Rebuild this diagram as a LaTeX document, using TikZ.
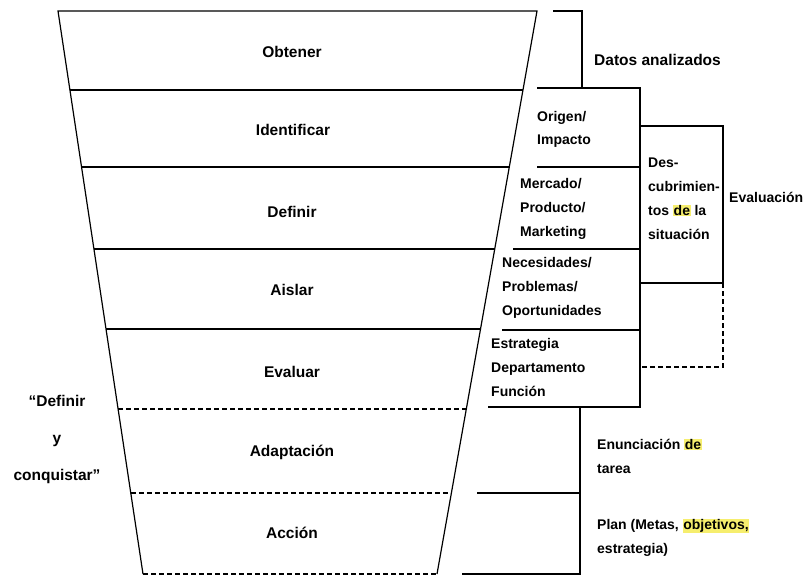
\documentclass[tikz,border=0pt]{standalone}
\usepackage{fontspec}
\setmainfont{Liberation Sans}
\usepackage{tikz}
\usetikzlibrary{calc}

\definecolor{marcador}{RGB}{246,238,110}
\newcommand{\resalto}[1]{{\setlength{\fboxsep}{0.6pt}\colorbox{marcador}{#1}}}

\begin{document}
\begin{tikzpicture}[
        x=1pt, y=-1pt,
        every node/.style={inner sep=0pt},
        etapa/.style={font=\bfseries\fontsize{15.5}{18}\selectfont},
        nota/.style={anchor=west, align=left, font=\bfseries\fontsize{14}{24}\selectfont},
        linea/.style={line width=1.2pt},
        guiones/.style={linea, dash pattern=on 5pt off 3pt}
    ]
    \useasboundingbox (0,0) rectangle (805,576);

    % Embudo
    \coordinate (supizq) at (58,11);
    \coordinate (supder) at (537,11);
    \coordinate (infizq) at (143,574);
    \coordinate (infder) at (437,574);
    \draw[linea] (infizq) -- (supizq) -- (supder) -- (infder);
    \draw[guiones] (infizq) -- (infder);
    \foreach \y/\estilo [evaluate=\y as \t using (\y-11)/563] in
        {90/linea, 167/linea, 249/linea, 329/linea, 409/guiones, 493/guiones}
        \draw[\estilo] ($(supizq)!\t!(infizq)$) -- ($(supder)!\t!(infder)$);

    % Etapas
    \node[etapa] (obtener) at (292,52) {Obtener};
    \node[etapa] (identificar) at (293,130) {Identificar};
    \node[etapa] (definir) at (292,212) {Definir};
    \node[etapa] (aislar) at (292,290) {Aislar};
    \node[etapa] (evaluar) at (292,372) {Evaluar};
    \node[etapa] (adaptacion) at (292,452) {Adaptación};
    \node[etapa] (accion) at (292,533) {Acción};
    \node[etapa, align=center, font=\bfseries\fontsize{15.5}{37}\selectfont] (lema) at (57,439)
        {“Definir\\y\\conquistar”};

    % Columna derecha
    \draw[linea] (553,11) -- (582,11) -- (582,88);
    \draw[linea] (537,88) -- (640,88) -- (640,407) -- (488,407);
    \draw[linea] (537,167) -- (640,167);
    \draw[linea] (513,249) -- (640,249);
    \draw[linea] (502,330) -- (640,330);
    \draw[linea] (640,126) -- (723,126) -- (723,283) -- (640,283);
    \draw[guiones] (723,283) -- (723,367) -- (640,367);
    \draw[linea] (580,407) -- (580,574) -- (462,574);
    \draw[linea] (477,493) -- (580,493);

    % Notas
    \node[nota, font=\bfseries\fontsize{15.5}{18}\selectfont] (datos) at (594,60) {Datos analizados};
    \node[nota, font=\bfseries\fontsize{14}{23}\selectfont] (origen) at (537,129) {Origen/\\Impacto};
    \node[nota] (mercado) at (520,209) {Mercado/\\Producto/\\Marketing};
    \node[nota] (necesidades) at (502,288) {Necesidades/\\Problemas/\\Oportunidades};
    \node[nota] (estrategia) at (491,367) {Estrategia\\Departamento\\Función};
    \node[nota] (descubrimientos) at (648,199) {Des-\\cubrimien-\\tos \resalto{de} la\\situación};
    \node[nota] (evaluacion) at (729,197) {Evaluación};
    \node[nota] (enunciacion) at (597,456) {Enunciación \resalto{de}\\tarea};
    \node[nota] (plan) at (597,538) {Plan (Metas, \resalto{objetivos,}\\estrategia)};

\end{tikzpicture}
\end{document}
